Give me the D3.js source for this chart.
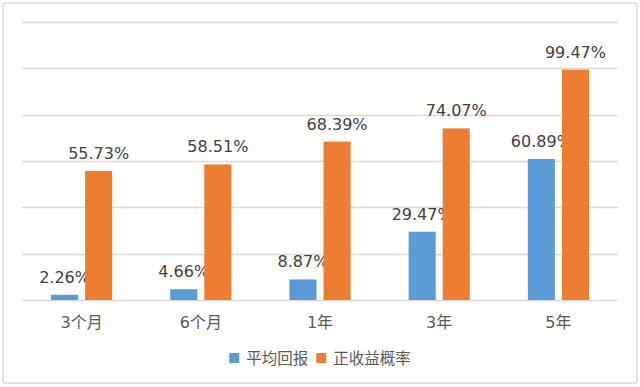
<!DOCTYPE html>
<html>
<head>
<meta charset="utf-8">
<script src="https://cdn.jsdelivr.net/npm/d3@7"></script>
<style>
  body { margin: 0; background: #fff; }
  svg { display: block; font-family: "DejaVu Sans", "Noto Sans CJK SC", sans-serif; }
</style>
</head>
<body>
<div id="chart"></div>
<script>
// data
const categories = ["3个月", "6个月", "1年", "3年", "5年"];
const seriesNames = ["平均回报", "正收益概率"];
const avgReturn = [2.26, 4.66, 8.87, 29.47, 60.89];
const positiveProb = [55.73, 58.51, 68.39, 74.07, 99.47];
const yTicks = [0, 20, 40, 60, 80, 100, 120];
const colors = ["#5B9BD5", "#ED7D31"];

const width = 640, height = 387;
const margin = {top: 22, right: 22, bottom: 87, left: 22};

const svg = d3.select("#chart").append("svg")
    .attr("width", width)
    .attr("height", height);

// chart border
svg.append("rect")
    .attr("x", 3).attr("y", 3)
    .attr("width", width - 6).attr("height", height - 7)
    .attr("rx", 3)
    .attr("fill", "#fff")
    .attr("stroke", "#d9d9d9")
    .attr("stroke-width", 1.5);

const x = d3.scaleBand()
    .domain(categories)
    .range([margin.left, width - margin.right]);

const y = d3.scaleLinear()
    .domain([0, 120])
    .range([height - margin.bottom, margin.top]);

// gridlines
svg.append("g")
  .selectAll("line")
  .data(yTicks)
  .join("line")
    .attr("x1", margin.left)
    .attr("x2", width - margin.right)
    .attr("y1", d => Math.round(y(d)) + 0.5)
    .attr("y2", d => Math.round(y(d)) + 0.5)
    .attr("stroke", "#d9d9d9")
    .attr("stroke-width", 1.5);

const barW = x.bandwidth() * 0.227;
const gap = barW * 0.26;
const x1 = d3.scaleOrdinal()
    .domain([0, 1])
    .range([x.bandwidth() / 2 - gap / 2 - barW, x.bandwidth() / 2 + gap / 2]);

const rows = [];
categories.forEach((c, i) => {
  rows.push({cat: c, s: 0, v: avgReturn[i]});
  rows.push({cat: c, s: 1, v: positiveProb[i]});
});

const bars = svg.append("g")
  .selectAll("g")
  .data(rows)
  .join("g");

bars.append("rect")
    .attr("x", d => x(d.cat) + x1(d.s))
    .attr("y", d => y(d.v))
    .attr("width", barW)
    .attr("height", d => y(0) - y(d.v))
    .attr("fill", d => colors[d.s]);

bars.append("text")
    .attr("x", d => x(d.cat) + x1(d.s) + barW / 2)
    .attr("y", d => y(d.v) - 12)
    .attr("text-anchor", "middle")
    .attr("fill", "#404040")
    .style("font-size", "16px")
    .text(d => d.v.toFixed(2) + "%");

// category axis labels
svg.append("g")
  .selectAll("text")
  .data(categories)
  .join("text")
    .attr("x", d => x(d) + x.bandwidth() / 2)
    .attr("y", y(0) + 28)
    .attr("text-anchor", "middle")
    .attr("fill", "#595959")
    .style("font-size", "16px")
    .text(d => d);

// legend
const legend = svg.append("g");
const items = legend.selectAll("g")
  .data(seriesNames)
  .join("g");
items.append("rect")
    .attr("y", 353)
    .attr("width", 10).attr("height", 10)
    .attr("fill", (d, i) => colors[i]);
items.append("text")
    .attr("x", 17)
    .attr("y", 364)
    .attr("fill", "#595959")
    .style("font-size", "15.5px")
    .text(d => d);

let offs = 0;
const itemW = [];
items.each(function() { itemW.push(this.getBBox().width); });
const total = d3.sum(itemW) + 8 * (itemW.length - 1);
offs = (margin.left + width - margin.right) / 2 - total / 2;
items.attr("transform", (d, i) => {
  const t = `translate(${offs},0)`;
  offs += itemW[i] + 8;
  return t;
});
</script>
</body>
</html>
